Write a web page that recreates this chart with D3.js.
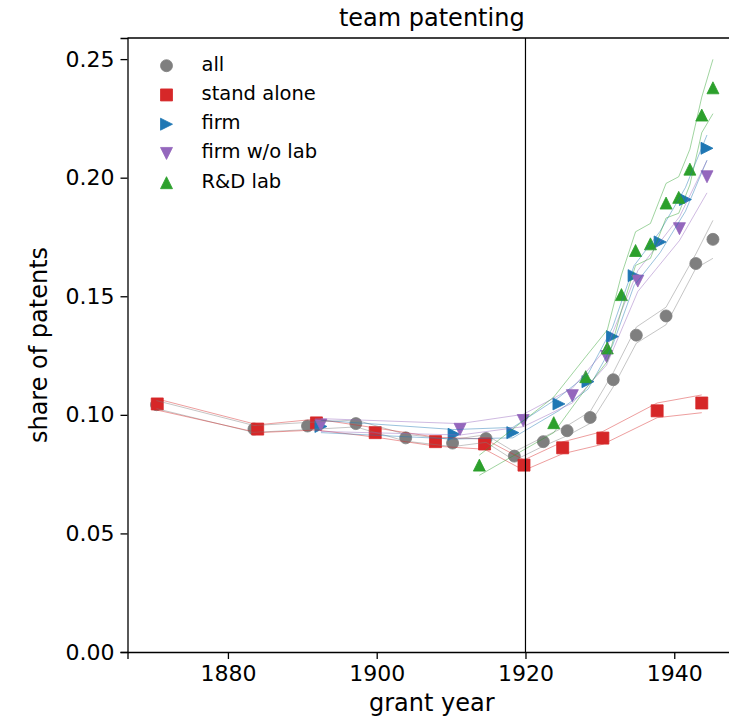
<!DOCTYPE html>
<html>
<head>
<meta charset="utf-8">
<script src="https://cdn.jsdelivr.net/npm/d3@7"></script>
<style>
  html, body { margin: 0; padding: 0; background: #fff; }
  svg { display: block; }
  text { font-family: "DejaVu Sans", sans-serif; fill: #000; }
</style>
</head>
<body>
<script>
// ---- data: share of team patents by grant year ----
const allYears  = [1870.4, 1883.5, 1890.7, 1897.2, 1903.9, 1910.2, 1914.7, 1918.5, 1922.4, 1925.6, 1928.7, 1931.8, 1934.9, 1938.9, 1942.9, 1945.2];
const allShare  = [0.1043, 0.0940, 0.0953, 0.0963, 0.0903, 0.0881, 0.0900, 0.0826, 0.0887, 0.0933, 0.0989, 0.1148, 0.1336, 0.1417, 0.1638, 0.1740];
const allLow    = [0.1026, 0.0926, 0.0938, 0.0949, 0.0889, 0.0866, 0.0884, 0.0808, 0.0868, 0.0912, 0.0964, 0.1118, 0.1302, 0.1380, 0.1618, 0.1660];
const allHigh   = [0.1060, 0.0955, 0.0968, 0.0978, 0.0918, 0.0896, 0.0916, 0.0844, 0.0906, 0.0954, 0.1014, 0.1178, 0.1370, 0.1454, 0.1678, 0.1820];

const saYears   = [1870.5, 1884.0, 1891.9, 1899.8, 1907.9, 1914.5, 1919.8, 1925.0, 1930.4, 1937.7, 1943.7];
const saShare   = [0.1046, 0.0940, 0.0966, 0.0925, 0.0887, 0.0877, 0.0788, 0.0861, 0.0902, 0.1017, 0.1050];
const saLow     = [0.1020, 0.0925, 0.0936, 0.0906, 0.0868, 0.0855, 0.0766, 0.0836, 0.0876, 0.0988, 0.1009];
const saHigh    = [0.1067, 0.0958, 0.0982, 0.0945, 0.0906, 0.0898, 0.0810, 0.0886, 0.0930, 0.1050, 0.1084];

const firmYears = [1892.5, 1910.4, 1918.3, 1924.5, 1928.4, 1931.7, 1934.6, 1938.1, 1941.5, 1944.4];
const firmShare = [0.0951, 0.0918, 0.0925, 0.1046, 0.1140, 0.1330, 0.1587, 0.1729, 0.1908, 0.2124];
const firmLow   = [0.0925, 0.0898, 0.0903, 0.1018, 0.1108, 0.1292, 0.1545, 0.1684, 0.1858, 0.2074];
const firmHigh  = [0.0977, 0.0938, 0.0947, 0.1074, 0.1172, 0.1368, 0.1629, 0.1774, 0.1958, 0.2180];

const nolabYears = [1892.5, 1911.2, 1919.7, 1926.3, 1930.9, 1935.1, 1940.7, 1944.4];
const nolabShare = [0.0957, 0.0939, 0.0976, 0.1081, 0.1246, 0.1564, 0.1785, 0.2004];
const nolabLow   = [0.0930, 0.0915, 0.0950, 0.1050, 0.1210, 0.1520, 0.1735, 0.1936];
const nolabHigh  = [0.0984, 0.0963, 0.1002, 0.1112, 0.1282, 0.1608, 0.1835, 0.2072];

const labYears  = [1913.8, 1923.8, 1928.1, 1931.0, 1932.9, 1934.8, 1936.8, 1938.9, 1940.6, 1942.1, 1943.7, 1945.2];
const labShare  = [0.0788, 0.0967, 0.1161, 0.1282, 0.1507, 0.1693, 0.1721, 0.1893, 0.1917, 0.2036, 0.2264, 0.2379];
const labLow    = [0.0745, 0.0925, 0.1110, 0.1225, 0.1440, 0.1630, 0.1660, 0.1830, 0.1850, 0.1970, 0.2190, 0.2270];
const labHigh   = [0.0830, 0.1075, 0.1245, 0.1358, 0.1590, 0.1772, 0.1807, 0.1976, 0.2004, 0.2120, 0.2340, 0.2499];

const seriesNames  = ["all", "stand alone", "firm", "firm w/o lab", "R&D lab"];
const seriesColors = ["#7f7f7f", "#d62728", "#1f77b4", "#9467bd", "#2ca02c"];
const seriesShapes = ["circle", "square", "right", "down", "up"];

const xTicks = [1880, 1900, 1920, 1940];
const yTicks = [0.00, 0.05, 0.10, 0.15, 0.20, 0.25];
const breakYear = 1920;

(function draw() {
  // ---- layout ----
  const W = 729, H = 722;
  const pLeft = 127.5, pRight = 736, pTop = 38, pBottom = 652;

  const x = d3.scaleLinear().domain([1866.5, 1948.3]).range([pLeft, pRight]);
  const y = d3.scaleLinear().domain([0, 0.2589]).range([pBottom, pTop]);

  const svg = d3.select("body").append("svg").attr("width", W).attr("height", H);
  svg.append("rect").attr("width", W).attr("height", H).attr("fill", "#fff");

  svg.append("defs").append("clipPath").attr("id", "plotclip")
    .append("rect").attr("x", pLeft).attr("y", pTop).attr("width", pRight - pLeft).attr("height", pBottom - pTop);

  const series = [
    { years: allYears,   share: allShare,   low: allLow,   high: allHigh },
    { years: saYears,    share: saShare,    low: saLow,    high: saHigh },
    { years: firmYears,  share: firmShare,  low: firmLow,  high: firmHigh },
    { years: nolabYears, share: nolabShare, low: nolabLow, high: nolabHigh },
    { years: labYears,   share: labShare,   low: labLow,   high: labHigh }
  ].map((s, i) => Object.assign(s, { name: seriesNames[i], color: seriesColors[i], shape: seriesShapes[i] }));

  // marker outline centred on (0,0), size = full width in px
  function markerPath(shape, size) {
    const r = size / 2;
    switch (shape) {
      case "circle": return d3.symbol(d3.symbolCircle, Math.PI * r * r)();
      case "square": return `M${-r},${-r}H${r}V${r}H${-r}Z`;
      case "up":     return `M0,${-r}L${r},${r}L${-r},${r}Z`;
      case "down":   return `M0,${r}L${r},${-r}L${-r},${-r}Z`;
      case "right":  return `M${r},0L${-r},${r}L${-r},${-r}Z`;
    }
  }
  const MS = 12;

  const plot = svg.append("g").attr("clip-path", "url(#plotclip)");

  // markers
  series.forEach(s => {
    plot.append("g").selectAll("path")
      .data(s.years.map((yr, i) => [yr, s.share[i]]))
      .join("path")
      .attr("d", markerPath(s.shape, MS))
      .attr("transform", d => `translate(${x(d[0])},${y(d[1])})`)
      .attr("fill", s.color)
      .attr("stroke", s.color)
      .attr("stroke-width", 0.8);
  });

  // band lines drawn above the markers
  const line = d3.line().x(d => x(d[0])).y(d => y(d[1]));
  series.forEach(s => {
    [s.low, s.high].forEach(b => {
      plot.append("path")
        .datum(s.years.map((yr, i) => [yr, b[i]]))
        .attr("d", line)
        .attr("fill", "none")
        .attr("stroke", s.color)
        .attr("stroke-opacity", 0.45)
        .attr("stroke-width", 1);
    });
  });

  // vertical reference line
  plot.append("line")
    .attr("x1", x(breakYear)).attr("x2", x(breakYear))
    .attr("y1", pTop).attr("y2", pBottom)
    .attr("stroke", "#000").attr("stroke-width", 1.2);

  // ---- axes ----
  const xAxis = svg.append("g").attr("transform", `translate(0,${pBottom})`)
    .call(d3.axisBottom(x).tickValues(xTicks).tickFormat(d3.format("d")).tickSizeOuter(0).tickSize(7).tickPadding(6));
  const yAxis = svg.append("g").attr("transform", `translate(${pLeft},0)`)
    .call(d3.axisLeft(y).tickValues(yTicks).tickFormat(d3.format(".2f")).tickSizeOuter(0).tickSize(7).tickPadding(6));

  [xAxis, yAxis].forEach(g => {
    g.selectAll(".domain").attr("stroke", "#000").attr("stroke-width", 1.3);
    g.selectAll(".tick line").attr("stroke", "#000").attr("stroke-width", 1.3);
    g.selectAll(".tick text").attr("font-size", 22).attr("font-family", "DejaVu Sans").attr("fill", "#000");
  });

  // top spine
  svg.append("line").attr("x1", pLeft).attr("x2", pRight).attr("y1", pTop).attr("y2", pTop)
    .attr("stroke", "#000").attr("stroke-width", 1.3);

  // ---- titles ----
  svg.append("text").attr("x", (pLeft + pRight) / 2).attr("y", 26)
    .attr("text-anchor", "middle").attr("font-size", 24).text("team patenting");
  svg.append("text").attr("x", (pLeft + pRight) / 2).attr("y", 711)
    .attr("text-anchor", "middle").attr("font-size", 24).text("grant year");
  svg.append("text").attr("transform", `translate(47,${(pTop + pBottom) / 2}) rotate(-90)`)
    .attr("text-anchor", "middle").attr("font-size", 24).text("share of patents");

  // ---- legend ----
  const legend = svg.append("g");
  series.forEach((s, i) => {
    const base = 70.7 + i * 29.25;
    legend.append("path")
      .attr("d", markerPath(s.shape, MS))
      .attr("transform", `translate(166.5,${base - 5})`)
      .attr("fill", s.color).attr("stroke", s.color).attr("stroke-width", 0.8);
    legend.append("text").attr("x", 201.5).attr("y", base)
      .attr("font-size", 19.5).text(s.name);
  });
})();
</script>
</body>
</html>
